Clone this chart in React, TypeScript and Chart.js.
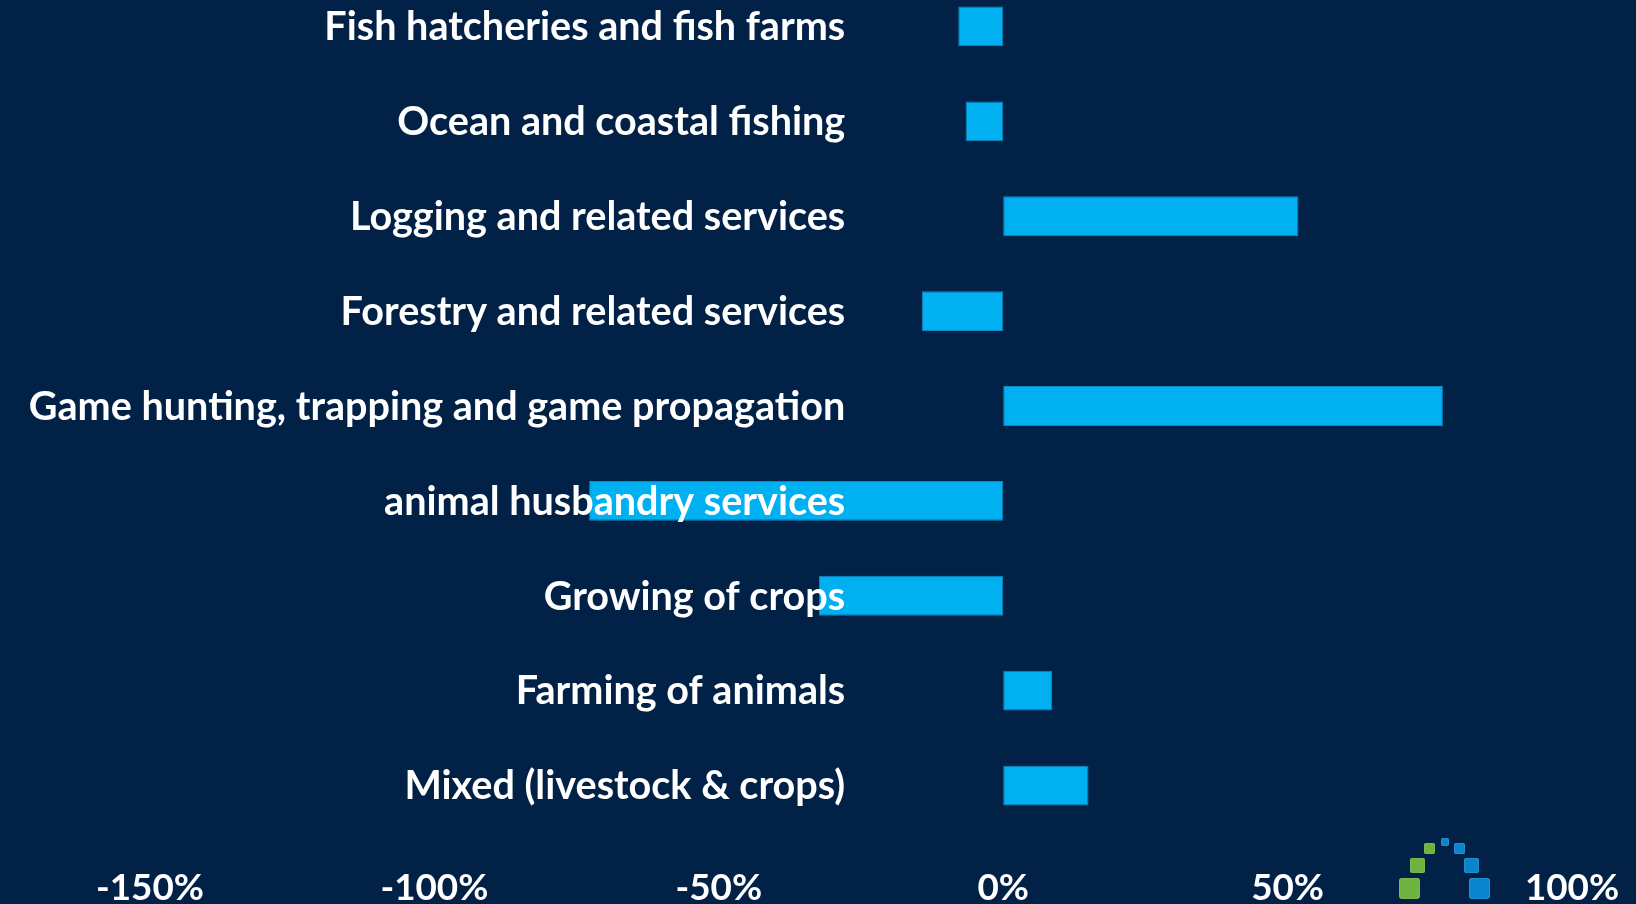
import React, { useEffect, useRef } from "react";
import { Chart, registerables } from "chart.js";

Chart.register(...registerables);

const categories = [
  "Fish hatcheries and fish farms",
  "Ocean and coastal fishing",
  "Logging and related services",
  "Forestry and related services",
  "Game hunting, trapping and game propagation",
  "animal husbandry services",
  "Growing of crops",
  "Farming of animals",
  "Mixed (livestock & crops)",
];
const changePct = [-7.9, -6.6, 51.9, -14.3, 77.3, -72.8, -32.4, 8.6, 15.0];
const xTicks = [-150, -100, -50, 0, 50, 100];

const FONT = "Lato";
const BG = "#012246";
const BAR = "#00B0F0";

function fitSize(text: string, target: number) {
  const c = document.createElement("canvas").getContext("2d")!;
  c.font = `bold 100px ${FONT}`;
  return (100 * target) / c.measureText(text).width;
}

const logoSquares = [
  { x: 1399, y: 878, s: 21, c: "#6DB33F" },
  { x: 1410, y: 858, s: 15, c: "#6DB33F" },
  { x: 1424, y: 843, s: 11, c: "#6DB33F" },
  { x: 1441, y: 838, s: 8, c: "#0A84CC" },
  { x: 1454, y: 843, s: 11, c: "#0A84CC" },
  { x: 1464, y: 858, s: 15, c: "#0A84CC" },
  { x: 1469, y: 878, s: 21, c: "#0A84CC" },
];

export default function App() {
  const ref = useRef<HTMLCanvasElement | null>(null);

  useEffect(() => {
    const canvas = ref.current!;
    const labelSize = fitSize(categories[0], 521);
    const tickSize = fitSize("-150%", 108);

    const labelPlugin = {
      id: "catLabels",
      afterDatasetsDraw(chart: any) {
        const { ctx, scales } = chart;
        const x = scales.x;
        const y = scales.y;
        ctx.save();
        ctx.font = `bold ${labelSize}px ${FONT}`;
        ctx.fillStyle = "#FFFFFF";
        ctx.textAlign = "right";
        ctx.textBaseline = "middle";
        const right = x.getPixelForValue(0) - 158;
        categories.forEach((c, i) => {
          ctx.fillText(c, right, y.getPixelForValue(i) + 1);
        });
        ctx.restore();
      },
    };

    const chart = new Chart(canvas, {
      type: "bar",
      data: {
        labels: categories,
        datasets: [
          {
            data: changePct,
            backgroundColor: BAR,
            borderColor: "#0E88C4",
            borderWidth: 1,
            borderSkipped: false,
            barPercentage: 0.42,
            categoryPercentage: 1,
          },
        ],
      },
      options: {
        indexAxis: "y",
        responsive: false,
        animation: false,
        layout: { padding: { left: 150, right: 64, top: 0, bottom: 0 } },
        plugins: { legend: { display: false }, tooltip: { enabled: false } },
        scales: {
          x: {
            min: -150,
            max: 100,
            grid: { display: false, drawTicks: false },
            border: { display: false },
            afterBuildTicks: (scale: any) => {
              scale.ticks = xTicks.map((v) => ({ value: v }));
            },
            afterFit: (scale: any) => {
              scale.height = 86;
              scale.paddingLeft = 0;
              scale.paddingRight = 0;
            },
            ticks: {
              color: "#FFFFFF",
              font: { family: FONT, weight: "bold", size: tickSize, lineHeight: 1 },
              padding: 55 - tickSize / 2,
              maxRotation: 0,
              autoSkip: false,
              callback: (v: any) => `${v}%`,
            },
          },
          y: {
            display: false,
            offset: true,
            grid: { display: false },
          },
        },
      },
      plugins: [labelPlugin],
    });
    return () => chart.destroy();
  }, []);

  return (
    <div
      style={{
        position: "fixed",
        left: 0,
        top: 0,
        width: 1636,
        height: 904,
        overflow: "hidden",
        background: BG,
      }}
    >
      <canvas
        ref={ref}
        width={1636}
        height={940}
        style={{ position: "absolute", left: 0, top: -21, width: 1636, height: 940 }}
      />
      {logoSquares.map((q, i) => (
        <div
          key={i}
          style={{
            position: "absolute",
            left: q.x,
            top: q.y,
            width: q.s,
            height: q.s,
            borderRadius: Math.max(2, q.s * 0.15),
            background: q.c,
            boxShadow: "inset 0 0 2px rgba(255,255,255,0.35)",
          }}
        />
      ))}
    </div>
  );
}
